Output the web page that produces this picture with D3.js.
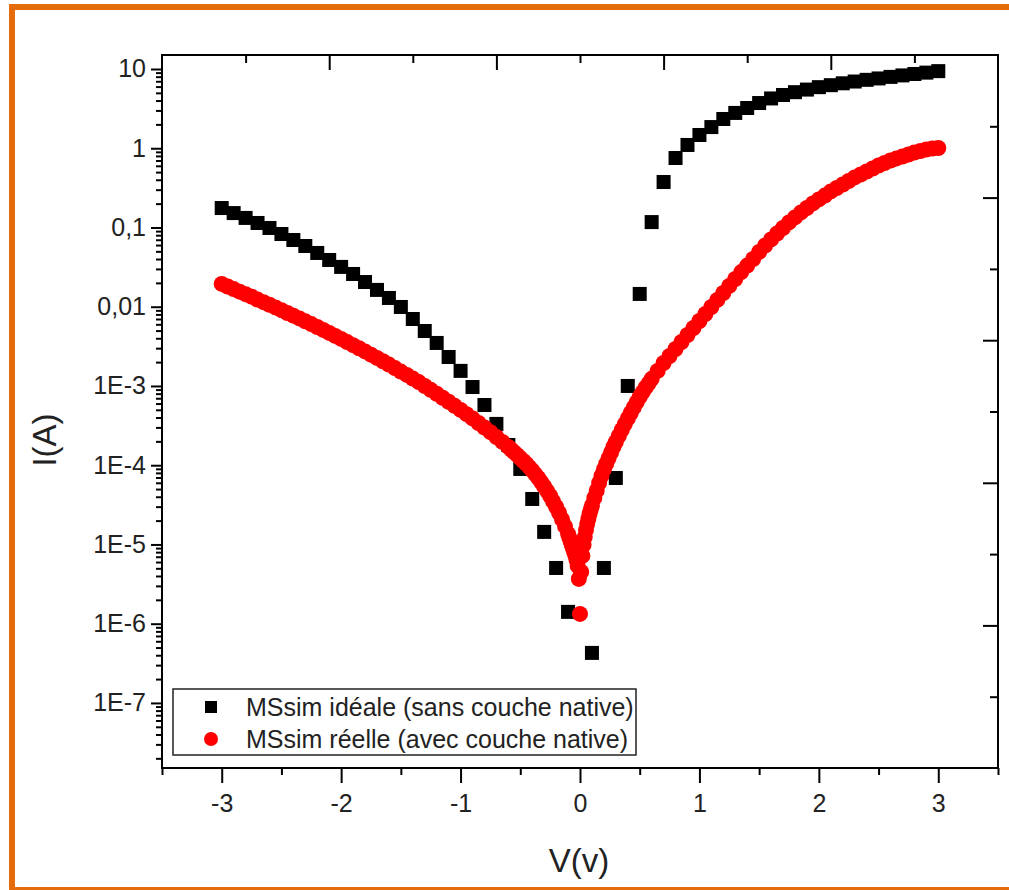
<!DOCTYPE html>
<html><head><meta charset="utf-8">
<script src="https://cdn.jsdelivr.net/npm/d3@7"></script>
<style>
html,body{margin:0;padding:0;background:#fff;}
svg{display:block;font-family:"Liberation Sans",Arial,sans-serif;}
</style></head>
<body><svg id="chart" width="1009" height="890"></svg>
<script>
// ---------- data ----------
const idealV = [-3.0,-2.9,-2.8,-2.7,-2.6,-2.5,-2.4,-2.3,-2.2,-2.1,-2.0,-1.9,-1.8,-1.7,-1.6,-1.5,-1.4,-1.3,-1.2,-1.1,-1.0,-0.9,-0.8,-0.7,-0.6,-0.5,-0.4,-0.3,-0.2,-0.1,
  0.1,0.2,0.3,0.4,0.5,0.6,0.7,0.8,0.9,1.0,1.1,1.2,1.3,1.4,1.5,1.6,1.7,1.8,1.9,2.0,2.1,2.2,2.3,2.4,2.5,2.6,2.7,2.8,2.9,3.0];
const idealI = [0.176,0.152,0.132,0.114,0.0986,0.0828,0.0695,0.0584,0.0477,0.0389,0.0318,0.0259,0.0205,0.0163,0.0129,0.00993,0.0070,0.00494,0.00349,0.00232,0.00155,9.7e-4,5.75e-4,3.32e-4,1.80e-4,8.97e-5,3.75e-5,1.44e-5,5.05e-6,1.41e-6,
  4.28e-7,5.05e-6,6.9e-5,1.0e-3,0.0145,0.117,0.375,0.753,1.10,1.47,1.85,2.34,2.79,3.22,3.72,4.25,4.7,5.1,5.5,5.9,6.25,6.6,6.95,7.3,7.6,7.95,8.3,8.65,9.0,9.4];

const realV = [-3.00,-2.95,-2.90,-2.85,-2.80,-2.75,-2.70,-2.65,-2.60,-2.55,-2.50,-2.45,-2.40,-2.35,-2.30,-2.25,-2.20,-2.15,-2.10,-2.05,
  -2.00,-1.95,-1.90,-1.85,-1.80,-1.75,-1.70,-1.65,-1.60,-1.55,-1.50,-1.45,-1.40,-1.35,-1.30,-1.25,-1.20,-1.15,-1.10,-1.05,
  -1.00,-0.95,-0.90,-0.85,-0.80,-0.75,-0.70,-0.65,-0.60,-0.575,-0.55,-0.525,-0.50,-0.475,-0.45,-0.425,-0.40,-0.375,-0.35,-0.325,
  -0.30,-0.275,-0.25,-0.225,-0.20,-0.175,-0.15,-0.125,-0.10,-0.09,-0.08,-0.07,-0.06,-0.05,-0.04,-0.03,-0.02,-0.01,0.00,
  0.01,0.02,0.03,0.04,0.05,0.06,0.07,0.08,0.09,0.10,0.12,0.14,0.16,0.18,0.20,0.22,0.24,0.26,0.28,0.30,
  0.325,0.35,0.375,0.40,0.425,0.45,0.475,0.50,0.525,0.55,0.575,0.60,0.65,0.70,0.75,0.80,0.85,0.90,0.95,1.00,
  1.05,1.10,1.15,1.20,1.25,1.30,1.35,1.40,1.45,1.50,1.55,1.60,1.65,1.70,1.75,1.80,1.85,1.90,1.95,2.00,
  2.05,2.10,2.15,2.20,2.25,2.30,2.35,2.40,2.45,2.50,2.55,2.60,2.65,2.70,2.75,2.80,2.85,2.90,2.95,3.00];
const realI = [1.94e-2,1.80e-2,1.67e-2,1.55e-2,1.44e-2,1.34e-2,1.23e-2,1.14e-2,1.06e-2,9.79e-3,9.05e-3,8.34e-3,7.71e-3,7.11e-3,6.55e-3,6.04e-3,5.55e-3,5.09e-3,4.67e-3,4.28e-3,
  3.92e-3,3.58e-3,3.27e-3,2.99e-3,2.73e-3,2.48e-3,2.26e-3,2.05e-3,1.86e-3,1.68e-3,1.52e-3,1.38e-3,1.24e-3,1.12e-3,1.00e-3,8.93e-4,7.97e-4,7.10e-4,6.32e-4,5.61e-4,
  4.98e-4,4.41e-4,3.89e-4,3.41e-4,2.99e-4,2.61e-4,2.27e-4,1.97e-4,1.70e-4,1.57e-4,1.45e-4,1.34e-4,1.23e-4,1.13e-4,1.04e-4,9.45e-5,8.59e-5,7.71e-5,6.91e-5,6.11e-5,
  5.40e-5,4.71e-5,4.09e-5,3.49e-5,2.97e-5,2.50e-5,2.07e-5,1.69e-5,1.36e-5,1.23e-5,1.11e-5,1.00e-5,9.04e-6,8.16e-6,7.37e-6,6.47e-6,5.36e-6,3.67e-6,1.33e-6,
  4.50e-6,7.16e-6,9.86e-6,1.24e-5,1.52e-5,1.81e-5,2.10e-5,2.43e-5,2.77e-5,3.10e-5,3.86e-5,4.80e-5,5.97e-5,7.32e-5,8.84e-5,1.05e-4,1.23e-4,1.45e-4,1.70e-4,1.97e-4,
  2.34e-4,2.79e-4,3.30e-4,3.89e-4,4.56e-4,5.36e-4,6.25e-4,7.27e-4,8.35e-4,9.58e-4,1.08e-3,1.23e-3,1.55e-3,1.95e-3,2.39e-3,2.93e-3,3.59e-3,4.40e-3,5.39e-3,6.61e-3,
  8.10e-3,9.93e-3,1.22e-2,1.49e-2,1.83e-2,2.24e-2,2.74e-2,3.31e-2,4.00e-2,4.91e-2,5.93e-2,7.06e-2,8.40e-2,9.86e-2,0.116,0.134,0.155,0.176,0.201,0.226,
  0.253,0.285,0.315,0.349,0.386,0.428,0.466,0.509,0.555,0.606,0.651,0.700,0.743,0.787,0.834,0.884,0.923,0.964,0.993,1.007];

const seriesNames = ["MSsim idéale (sans couche native)", "MSsim réelle (avec couche native)"];
const xTickValues = [-3,-2,-1,0,1,2,3];
const xTickLabels = ["-3","-2","-1","0","1","2","3"];
const yTickValues = [1e-7,1e-6,1e-5,1e-4,1e-3,1e-2,1e-1,1,10];
const yTickLabels = ["1E-7","1E-6","1E-5","1E-4","1E-3","0,01","0,1","1","10"];
const xTitle = "V(v)";
const yTitle = "I(A)";

// ---------- layout ----------
const svg = d3.select("#chart");
const L = 162, R = 998, T = 55, B = 768;
const x = d3.scaleLinear().domain([-3.5, 3.5]).range([L, R]);
const y = d3.scaleLog().domain([1.51e-8, 15.02]).range([B, T]);
const topS = d3.scaleLinear().domain([0, 10]).range([L, R]);
const rightS = d3.scaleLinear().domain([0, 10]).range([T, B]);

svg.append("rect").attr("width",1009).attr("height",890).attr("fill","#fff");
// orange frame
svg.append("rect").attr("x",12).attr("y",7).attr("width",1020).attr("height",883)
  .attr("fill","none").attr("stroke","#E46C0A").attr("stroke-width",6);

const ink = "#222";
const fontTick = 25;

// minor ticks for log axis
const yMinor = [];
for (let e = -8; e <= 1; e++) for (let m = 2; m <= 9; m++) {
  const v = m * Math.pow(10, e);
  if (v >= y.domain()[0] && v <= y.domain()[1]) yMinor.push(v);
}
const xMinor = d3.range(-3.5, 3.51, 1);

function styleAxis(g){
  g.select(".domain").remove();
  g.selectAll("line").attr("stroke","#000").attr("stroke-width",2);
  g.selectAll("text").attr("fill",ink).attr("font-size",fontTick).attr("font-family","'Liberation Sans',Arial,sans-serif");
}

// left axis
svg.append("g").attr("transform",`translate(${L},0)`)
  .call(d3.axisLeft(y).tickValues(yMinor).tickSize(6).tickFormat(""))
  .call(styleAxis);
svg.append("g").attr("transform",`translate(${L},0)`)
  .call(d3.axisLeft(y).tickValues(yTickValues).tickSize(11).tickPadding(5)
     .tickFormat((d,i)=>yTickLabels[i]))
  .call(styleAxis);

// bottom axis
svg.append("g").attr("transform",`translate(0,${B})`)
  .call(d3.axisBottom(x).tickValues(xMinor).tickSize(7).tickFormat(""))
  .call(styleAxis);
svg.append("g").attr("transform",`translate(0,${B})`)
  .call(d3.axisBottom(x).tickValues(xTickValues).tickSize(15).tickPadding(11).tickFormat((d,i)=>xTickLabels[i]))
  .call(styleAxis);

// top axis (inward ticks, no labels)
svg.append("g").attr("transform",`translate(0,${T})`)
  .call(d3.axisTop(topS).tickValues([1,3,5,7,9]).tickSize(-8).tickFormat(""))
  .call(styleAxis);
svg.append("g").attr("transform",`translate(0,${T})`)
  .call(d3.axisTop(topS).tickValues([2,4,6,8]).tickSize(-15).tickFormat(""))
  .call(styleAxis);
// right axis (inward ticks, no labels)
svg.append("g").attr("transform",`translate(${R},0)`)
  .call(d3.axisRight(rightS).tickValues([1,3,5,7,9]).tickSize(-8).tickFormat(""))
  .call(styleAxis);
svg.append("g").attr("transform",`translate(${R},0)`)
  .call(d3.axisRight(rightS).tickValues([2,4,6,8]).tickSize(-15).tickFormat(""))
  .call(styleAxis);

// frame of plot
svg.append("rect").attr("x",L).attr("y",T).attr("width",R-L).attr("height",B-T)
  .attr("fill","none").attr("stroke","#000").attr("stroke-width",2);

// data
const sq = 14;
svg.append("g").selectAll("rect").data(idealV.map((v,i)=>[v,idealI[i]])).join("rect")
  .attr("x",d=>x(d[0])-sq/2).attr("y",d=>y(d[1])-sq/2)
  .attr("width",sq).attr("height",sq).attr("fill","#000");
svg.append("g").selectAll("circle").data(realV.map((v,i)=>[v,realI[i]])).join("circle")
  .attr("cx",d=>x(d[0])).attr("cy",d=>y(d[1])).attr("r",8).attr("fill","#ff0000");

// legend
const lg = svg.append("g");
lg.append("rect").attr("x",173).attr("y",689).attr("width",463).attr("height",66)
  .attr("fill","#fff").attr("stroke","#222").attr("stroke-width",1.5);
lg.append("rect").attr("x",211-6).attr("y",707-6).attr("width",12).attr("height",12).attr("fill","#000");
lg.append("circle").attr("cx",211).attr("cy",739).attr("r",7).attr("fill","#ff0000");
lg.selectAll("text").data(seriesNames).join("text")
  .attr("x",246).attr("y",(d,i)=>716+i*32)
  .attr("font-size",25).attr("fill",ink).text(d=>d);

// axis titles
svg.append("text").attr("x",579).attr("y",872).attr("text-anchor","middle")
  .attr("font-size",33).attr("fill",ink).text(xTitle);
svg.append("text").attr("transform","translate(56,440) rotate(-90)").attr("text-anchor","middle")
  .attr("font-size",33).attr("fill",ink).text(yTitle);
</script></body></html>
